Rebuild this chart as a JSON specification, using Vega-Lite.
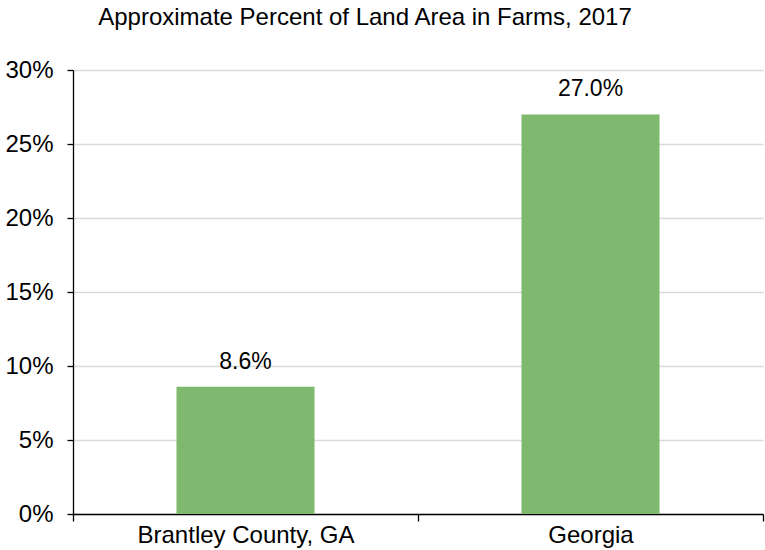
{
  "$schema": "https://vega.github.io/schema/vega-lite/v6.json",
  "width": 690,
  "height": 444,
  "autosize": {"type": "none"},
  "padding": {"left": 73, "top": 70, "right": 2, "bottom": 36},
  "background": "white",
  "title": {
    "text": "Approximate Percent of Land Area in Farms, 2017",
    "font": "Liberation Sans",
    "fontSize": 24,
    "fontWeight": "normal",
    "color": "#000000",
    "anchor": "middle",
    "dx": -53,
    "offset": 28
  },
  "config": {
    "view": {"stroke": null},
    "font": "Liberation Sans"
  },
  "data": {
    "values": [
      {"area": "Brantley County, GA", "pct": 0.086, "label": "8.6%"},
      {"area": "Georgia", "pct": 0.27, "label": "27.0%"}
    ]
  },
  "encoding": {
    "x": {
      "field": "area",
      "type": "nominal",
      "sort": null,
      "scale": {"paddingInner": 0, "paddingOuter": 0},
      "axis": {
        "title": null,
        "labelAngle": 0,
        "labelLimit": 0,
        "labelFont": "Liberation Sans",
        "labelFontSize": 24,
        "labelColor": "#000000",
        "labelPadding": 2,
        "domainColor": "#000000",
        "domainWidth": 1.3,
        "tickColor": "#000000",
        "tickWidth": 1.3,
        "tickSize": 7,
        "tickBand": "extent",
        "grid": false
      }
    },
    "y": {
      "field": "pct",
      "type": "quantitative",
      "scale": {"domain": [0, 0.3], "nice": false},
      "axis": {
        "title": null,
        "format": ".0%",
        "values": [0, 0.05, 0.1, 0.15, 0.2, 0.25, 0.3],
        "labelFont": "Liberation Sans",
        "labelFontSize": 24,
        "labelColor": "#000000",
        "labelPadding": 14,
        "domainColor": "#000000",
        "domainWidth": 1.3,
        "tickColor": "#000000",
        "tickWidth": 1.3,
        "tickSize": 6,
        "grid": true,
        "gridColor": "#d9d9d9",
        "gridWidth": 1.3
      }
    }
  },
  "layer": [
    {
      "mark": {"type": "bar", "color": "#7fb86f", "width": {"band": 0.4}}
    },
    {
      "mark": {
        "type": "text",
        "baseline": "alphabetic",
        "dy": -18,
        "font": "Liberation Sans",
        "fontSize": 23,
        "color": "#000000"
      },
      "encoding": {"text": {"field": "label"}}
    }
  ]
}
